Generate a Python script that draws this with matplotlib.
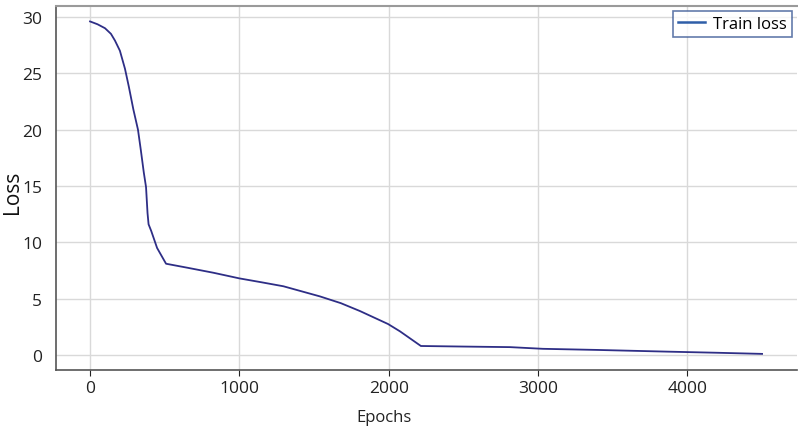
import matplotlib.pyplot as plt

# Training loss curve
epochs = [0, 50, 100, 140, 167, 200, 234, 260, 290, 321, 340, 360, 375, 385, 392,
          410, 449, 509, 650, 826, 1000, 1150, 1295, 1540, 1680, 1808, 1996, 2076,
          2216, 2500, 2813, 3033, 3400, 3864, 4200, 4501]
loss = [29.6, 29.35, 29.0, 28.5, 27.9, 27.0, 25.4, 23.8, 21.8, 20.0, 18.2, 16.2,
        14.9, 12.6, 11.6, 11.0, 9.5, 8.1, 7.75, 7.3, 6.8, 6.45, 6.1, 5.2, 4.6,
        3.9, 2.75, 2.1, 0.8, 0.75, 0.7, 0.55, 0.45, 0.3, 0.2, 0.1]
xticks = [0, 1000, 2000, 3000, 4000]
yticks = [0, 5, 10, 15, 20, 25, 30]

plt.rcParams['font.family'] = ['Open Sans', 'DejaVu Sans']

fig = plt.figure(figsize=(7.98, 4.31), dpi=100)
ax = fig.add_axes([56 / 798, 1 - 371 / 431, 741 / 798, 364 / 431])

ax.plot(epochs, loss, color='#2e2e86', linewidth=1.3, label='Train loss')

ax.set_xlim(-228, 4735)
ax.set_ylim(-1.33, 30.97)
ax.set_xticks(xticks)
ax.set_yticks(yticks)
ax.tick_params(axis='both', labelsize=12.5, colors='#222222', length=4, width=0.8)
ax.tick_params(axis='y', length=0, pad=10)
ax.grid(True, color='#d9d9d9', linewidth=1.0)

for side in ['left', 'bottom']:
    ax.spines[side].set_color('#555555')
    ax.spines[side].set_linewidth(1.2)
ax.spines['top'].set_color('#9a9a9a')
ax.spines['top'].set_linewidth(1.5)
ax.spines['right'].set_visible(False)

ax.set_xlabel('Epochs', fontsize=12, color='#222222', va='center')
ax.xaxis.set_label_coords((384 - 56) / 741, -(418 - 371) / 364)
ax.set_ylabel('Loss', fontsize=15, color='#111111', va='center')
ax.yaxis.set_label_coords(-(56 - 12) / 741, (371 - 192) / 364)

leg = ax.legend(loc='upper right', fontsize=12, frameon=True, fancybox=False,
                borderpad=0.3, handlelength=1.6, handletextpad=0.5,
                borderaxespad=0.3)
leg.get_frame().set_edgecolor('#3c5a96')
leg.get_frame().set_linewidth(1.2)
leg.get_lines()[0].set_color('#2f5ea8')
leg.get_lines()[0].set_linewidth(1.8)

plt.savefig('out.png', dpi=100)
